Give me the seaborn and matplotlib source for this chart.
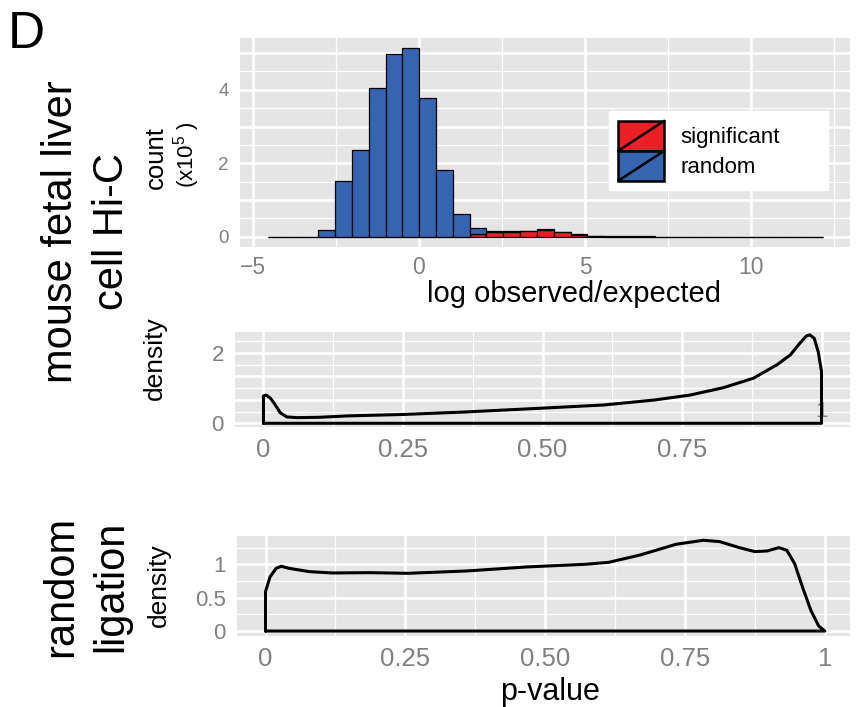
import numpy as np
import pandas as pd
import seaborn as sns
import matplotlib
matplotlib.use('Agg')
from matplotlib import pyplot as plt
from matplotlib.legend_handler import HandlerBase
from matplotlib.patches import Rectangle
from matplotlib.lines import Line2D
from matplotlib.ticker import FixedLocator

# histogram of log observed/expected (counts in units of 1e5), 33 bins
bin_lo, bin_hi = -4.55, 12.16
random_counts = [0, 0, 0, 0.18, 1.51, 2.37, 4.04, 4.97, 5.14, 3.77, 1.81, 0.62,
                 0.17, 0.03, 0.02, 0.01, 0.01, 0.01, 0.01, 0.02, 0.015, 0.01, 0.02,
                 0, 0, 0, 0, 0, 0, 0, 0, 0, 0]
significant_counts = [0, 0, 0, 0, 0, 0, 0, 0, 0, 0, 0, 0,
                      0.07, 0.12, 0.13, 0.16, 0.19, 0.13, 0.06, 0.01, 0.005, 0, 0,
                      0, 0, 0, 0, 0, 0, 0, 0, 0, 0]

# p-value density, mouse fetal liver Hi-C
pval_hic = [0, 0.005, 0.012, 0.02, 0.03, 0.042, 0.06, 0.1, 0.152, 0.25, 0.36, 0.5,
            0.61, 0.7, 0.764, 0.824, 0.878, 0.92, 0.944, 0.961, 0.973, 0.979,
            0.987, 0.994, 1.0]
dens_hic = [0.78, 0.80, 0.72, 0.55, 0.30, 0.18, 0.16, 0.17, 0.21, 0.25, 0.32, 0.43,
            0.52, 0.66, 0.80, 1.01, 1.28, 1.66, 1.94, 2.27, 2.48, 2.51,
            2.41, 2.03, 1.47]

# p-value density, random ligation
pval_rand = [0, 0.008, 0.019, 0.028, 0.042, 0.078, 0.12, 0.184, 0.254, 0.36, 0.466,
             0.572, 0.614, 0.67, 0.734, 0.783, 0.812, 0.847, 0.875, 0.897, 0.918,
             0.932, 0.946, 0.96, 0.975, 0.989, 1.0]
dens_rand = [0.59, 0.81, 0.94, 0.97, 0.94, 0.89, 0.87, 0.875, 0.865, 0.90, 0.96,
             1.0, 1.03, 1.14, 1.30, 1.36, 1.34, 1.25, 1.19, 1.20, 1.25,
             1.21, 1.01, 0.66, 0.31, 0.075, 0.0]

RED = '#EC1F26'
BLUE = '#3564B0'
PANEL = '#E5E5E5'
GREY = '#808080'

sns.set_style('white')
plt.rcParams['font.family'] = ['Liberation Sans', 'DejaVu Sans']
plt.rcParams['text.color'] = 'black'
plt.rcParams['mathtext.fontset'] = 'custom'
plt.rcParams['mathtext.rm'] = 'Liberation Sans'

W, H = 859, 707
fig = plt.figure(figsize=(W / 100, H / 100), dpi=100)


def px_axes(left, top, right, bottom):
    return fig.add_axes([left / W, 1 - bottom / H, (right - left) / W, (bottom - top) / H])


def style(ax, xsize, ysize, xpad=4):
    ax.set_facecolor(PANEL)
    for s in ax.spines.values():
        s.set_visible(False)
    ax.grid(which='major', color='white', lw=1.9)
    ax.grid(which='minor', color='white', lw=0.9)
    ax.set_axisbelow(True)
    ax.tick_params(which='major', length=4, width=1.3, color=GREY, labelcolor=GREY, pad=4)
    ax.tick_params(which='minor', length=0)
    ax.tick_params(axis='x', labelsize=xsize, pad=xpad)
    ax.tick_params(axis='y', labelsize=ysize)
    ax.set_xlabel('')
    ax.set_ylabel('')


# ---- top: histogram ----
ax1 = px_axes(240, 38, 850, 246.7)
edges = np.linspace(bin_lo, bin_hi, len(random_counts) + 1)
centers = (edges[:-1] + edges[1:]) / 2
hist_df = pd.DataFrame({
    'x': np.r_[centers, centers],
    'w': np.r_[random_counts, significant_counts],
    'group': ['random'] * len(centers) + ['significant'] * len(centers),
})
sns.histplot(hist_df, x='x', weights='w', hue='group', hue_order=['random', 'significant'],
             multiple='stack', bins=len(centers), binrange=(bin_lo, bin_hi),
             palette={'random': BLUE, 'significant': RED}, edgecolor='black',
             linewidth=0.9, alpha=1, legend=False, ax=ax1)
ax1.set_xlim(-5.39, 12.98)
ax1.set_ylim(-0.27, 5.41)
ax1.xaxis.set_major_locator(FixedLocator([-5, 0, 5, 10]))
ax1.xaxis.set_minor_locator(FixedLocator([-2.5, 2.5, 7.5, 12.5]))
ax1.yaxis.set_major_locator(FixedLocator([0, 1, 2, 3, 4, 5]))
ax1.yaxis.set_minor_locator(FixedLocator([0.5, 1.5, 2.5, 3.5, 4.5]))
ax1.set_xticklabels(['\u22125', '0', '5', '10'])
ax1.set_yticklabels(['0', '', '2', '', '4', ''])
style(ax1, 16.5, 13.5, xpad=3)


class DiagKey(HandlerBase):
    def create_artists(self, legend, orig_handle, xdescent, ydescent, width, height,
                       fontsize, trans):
        x0, y0 = -xdescent, -ydescent
        box = Rectangle((x0, y0), width, height, facecolor=orig_handle.get_facecolor(),
                        edgecolor='black', lw=1.8, transform=trans)
        diag = Line2D([x0, x0 + width], [y0, y0 + height], color='black', lw=1.8,
                      transform=trans)
        return [box, diag]


handles = [Rectangle((0, 0), 1, 1, facecolor=RED), Rectangle((0, 0), 1, 1, facecolor=BLUE)]
leg = ax1.legend(handles, ['significant', 'random'],
                 handler_map={h: DiagKey() for h in handles},
                 bbox_to_anchor=(608.7 / W, 1 - 198.3 / H, 219 / W, 95 / H),
                 bbox_transform=fig.transFigure, loc='center', mode='expand',
                 borderaxespad=0, borderpad=0.43, handlelength=2.07, handleheight=1.7,
                 labelspacing=0, handletextpad=0.71, fontsize=16, frameon=True,
                 fancybox=False, framealpha=1, edgecolor='white', facecolor='white')
for t in leg.get_texts():
    t.set_color('black')

# ---- middle: Hi-C p-value density ----
ax2 = px_axes(235, 331.7, 850, 427.3)
hic_x = [pval_hic[0]] + pval_hic + [pval_hic[-1], pval_hic[0]]
hic_y = [0] + dens_hic + [0, 0]
sns.lineplot(x=hic_x, y=hic_y, sort=False, estimator=None, color='black', lw=2.2, ax=ax2)
ax2.set_xlim(-0.051, 1.051)
ax2.set_ylim(-0.114, 2.60)
ax2.xaxis.set_major_locator(FixedLocator([0, 0.25, 0.5, 0.75, 1]))
ax2.xaxis.set_minor_locator(FixedLocator([0.125, 0.375, 0.625, 0.875]))
ax2.yaxis.set_major_locator(FixedLocator([0, 2 / 3, 4 / 3, 2]))
ax2.yaxis.set_minor_locator(FixedLocator([1 / 3, 1, 5 / 3, 7 / 3]))
ax2.set_xticklabels(['0', '0.25', '0.50', '0.75', ''])
ax2.set_yticklabels(['0', '', '', '2'])
style(ax2, 18.5, 16)
ax2.text(1.0, 0.33, '1', color=GREY, fontsize=16, ha='center', va='center', zorder=1.5)

# ---- bottom: random ligation p-value density ----
ax3 = px_axes(237, 536, 850, 635.5)
rand_x = [pval_rand[0]] + pval_rand + [pval_rand[-1], pval_rand[0]]
rand_y = [0] + dens_rand + [0, 0]
sns.lineplot(x=rand_x, y=rand_y, sort=False, estimator=None, color='black', lw=2.2, ax=ax3)
ax3.set_xlim(-0.051, 1.045)
ax3.set_ylim(-0.067, 1.424)
ax3.xaxis.set_major_locator(FixedLocator([0, 0.25, 0.5, 0.75, 1]))
ax3.xaxis.set_minor_locator(FixedLocator([0.125, 0.375, 0.625, 0.875]))
ax3.yaxis.set_major_locator(FixedLocator([0, 0.5, 1]))
ax3.yaxis.set_minor_locator(FixedLocator([0.25, 0.75, 1.25]))
ax3.set_xticklabels(['0', '0.25', '0.50', '0.75', '1'])
ax3.set_yticklabels(['0', '0.5', '1'])
style(ax3, 18.5, 16)


# ---- text labels ----
def ftext(x, y, s, **kw):
    fig.text(x / W, 1 - y / H, s, color='black', **kw)


ftext(8, 48, 'D', fontsize=37, ha='left', va='baseline')
vert = dict(rotation=90, rotation_mode='anchor', ha='center', va='baseline')
ftext(72, 232, 'mouse fetal liver', fontsize=30, **vert)
ftext(123, 232, 'cell Hi-C', fontsize=30, **vert)
ftext(72, 586, 'random', fontsize=30, **vert)
ftext(122, 586, 'ligation', fontsize=30, **vert)
ftext(163, 158, 'count', fontsize=18.5, **vert)
ftext(187, 155, '(x10$^{5}$ )', fontsize=16, rotation=90, ha='center', va='center')
ftext(162, 358, 'density', fontsize=19, **vert)
ftext(166, 585, 'density', fontsize=19, **vert)
ftext(574, 302, 'log observed/expected', fontsize=21, ha='center', va='baseline')
ftext(550, 700, 'p-value', fontsize=22, ha='center', va='baseline')

fig.savefig('out.png', dpi=100, facecolor='white')
